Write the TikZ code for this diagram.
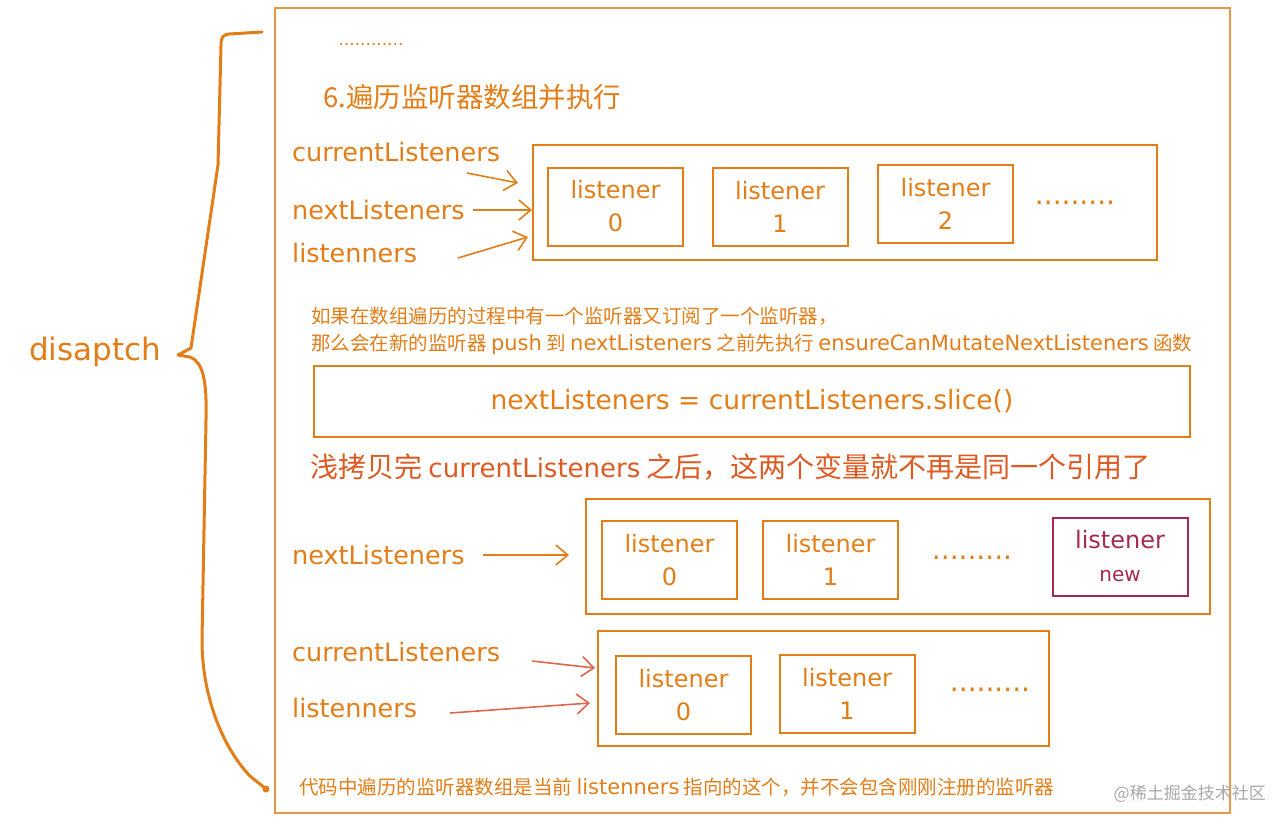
\documentclass[tikz,border=0pt]{standalone}
\usepackage{fontspec}
\setmainfont{Noto Sans CJK SC}
\newfontfamily\hand{DejaVu Sans}
\usetikzlibrary{arrows.meta}

\definecolor{ora}{HTML}{E27D17}
\definecolor{redora}{HTML}{DD5A22}
\definecolor{salmon}{HTML}{E0664A}
\definecolor{wine}{HTML}{A62A50}
\definecolor{wmark}{HTML}{A8A8A8}

\newcommand{\hw}[1]{{\hand\fontsize{21}{21}\selectfont #1}}

\tikzset{
  lst/.style={draw=ora, line width=2pt, minimum width=135pt, minimum height=78pt,
    align=center, text=ora, font=\hand\fontsize{24}{33}\selectfont},
  grp/.style={draw=ora, line width=2pt, inner sep=0pt},
  lbl/.style={anchor=west, text=ora, inner sep=0pt, font=\hand\fontsize{25.5}{27}\selectfont},
  note/.style={anchor=west, text=ora, inner sep=0pt, font=\fontsize{19.5}{21}\selectfont},
  dots/.style={text=ora, inner sep=0pt, font=\hand\fontsize{28}{30}\selectfont},
  arr/.style={draw=ora, line width=1.6pt, -{Straight Barb[length=12pt,width=20pt]}},
}

\begin{document}
\begin{tikzpicture}[x=1pt, y=-1pt]

    \useasboundingbox (0,0) rectangle (1288,828);

    % frame and brace
    \node[grp, draw=ora!80, line width=1.4pt, minimum width=955pt, minimum height=805pt] (frame) at (752.5,410.5) {};
    \draw[ora, line width=3pt, line cap=round, line join=round]
        (262,32) -- (229,34) .. controls (222,35) and (221,38) .. (221,46)
        -- (218,165) -- (191,348) -- (178,355) -- (190,357)
        .. controls (203,362) and (207,380) .. (206,420)
        -- (202,640) .. controls (202,700) and (225,750) .. (250,776) -- (266,789);
    \fill[ora] (266,789) circle (3.5pt);
    \node[text=ora, font=\hand\fontsize{31}{33}\selectfont] (dispatch) at (95,352) {disaptch};

    \node[dots, font=\hand\fontsize{17}{20}\selectfont] (topdots) at (371,44) {............};
    \node[lbl, font=\fontsize{27.5}{29}\selectfont] (title) at (323,97) {6.遍历监听器数组并执行};

    % first array
    \node[grp, minimum width=624pt, minimum height=115pt] (arrA) at (845,202.5) {};
    \node[lst] (a0) at (615.5,206.5) {listener\\0};
    \node[lst] (a1) at (780,206.5) {listener\\1};
    \node[lst] (a2) at (945.5,204) {listener\\2};
    \node[dots] (adots) at (1075,203) {.........};

    \node[lbl] (curA) at (292,152) {currentListeners};
    \node[lbl] (nextA) at (292,210) {nextListeners};
    \node[lbl] (lisA) at (292,253) {listenners};
    \coordinate (tCurA) at (467,173);
    \coordinate (hCurA) at (518,183);
    \coordinate (hLisA) at (528,237);
    \coordinate (tLisA) at (458,258);
    \draw[arr] (tCurA) -- (hCurA);
    \draw[arr, shorten <=8pt] (nextA.east) -- (nextA.east -| arrA.west);
    \draw[arr] (tLisA) -- (hLisA);

    % explanation
    \node[note] (why1) at (311,316) {如果在数组遍历的过程中有一个监听器又订阅了一个监听器，};
    \node[note] (why2) at (311,344) {那么会在新的监听器 \hw{push} 到 \hw{nextListeners} 之前先执行 \hw{ensureCanMutateNextListeners} 函数};
    \node[grp, minimum width=876pt, minimum height=71pt] (code) at (752,401.5) {};
    \node[text=ora, font=\hand\fontsize{26.5}{28}\selectfont] (codetxt) at (code) {nextListeners = currentListeners.slice()};
    \node[lbl, text=redora, font=\fontsize{28}{30}\selectfont] (copy) at (310,467) {浅拷贝完 {\hand\fontsize{26}{28}\selectfont currentListeners} 之后，这两个变量就不再是同一个引用了};

    % next listeners
    \node[grp, minimum width=624pt, minimum height=115pt] (arrB) at (898,556.5) {};
    \node[lst] (b0) at (669.5,560) {listener\\0};
    \node[lst] (b1) at (830.5,560) {listener\\1};
    \node[dots] (bdots) at (972,558) {.........};
    \node[lst, draw=wine, text=wine] (bnew) at (1120,556.5) {listener\\{\fontsize{20}{22}\selectfont new}};
    \node[lbl] (nextB) at (292,555) {nextListeners};
    \draw[arr, shorten <=18pt, shorten >=16pt] (nextB.east) -- (nextB.east -| arrB.west);

    % current listeners
    \node[grp, minimum width=451pt, minimum height=115pt] (arrC) at (823.5,688.5) {};
    \node[lst] (c0) at (683.5,695) {listener\\0};
    \node[lst] (c1) at (847,694) {listener\\1};
    \node[dots] (cdots) at (990,690) {.........};
    \node[lbl] (curC) at (292,652) {currentListeners};
    \node[lbl] (lisC) at (292,708) {listenners};
    \coordinate (tCurC) at (532,661);
    \coordinate (hCurC) at (595,668);
    \coordinate (tLisC) at (450,713);
    \coordinate (hLisC) at (590,703);
    \draw[arr, draw=salmon] (tCurC) -- (hCurC);
    \draw[arr, draw=salmon] (tLisC) -- (hLisC);

    \node[note] (bottom) at (299,787) {代码中遍历的监听器数组是当前 \hw{listenners} 指向的这个，并不会包含刚刚注册的监听器};
    \node[anchor=east, text=wmark, inner sep=0pt, font=\fontsize{17}{19}\selectfont] (mark) at (1266,794) {@稀土掘金技术社区};

\end{tikzpicture}
\end{document}
